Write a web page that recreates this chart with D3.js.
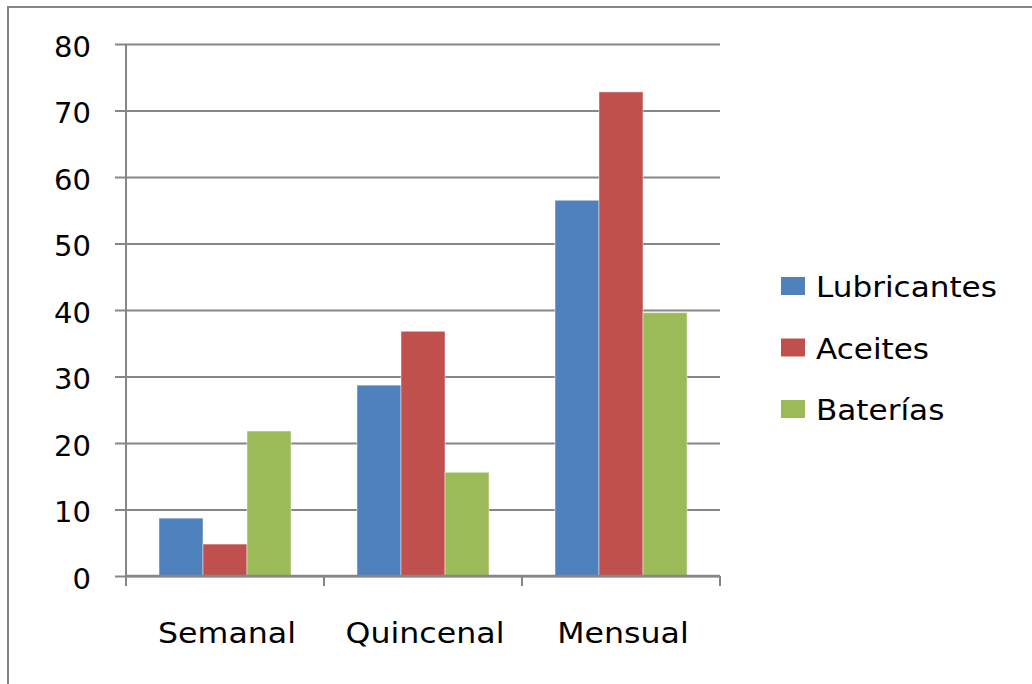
<!DOCTYPE html>
<html>
<head>
<meta charset="utf-8">
<script src="https://cdn.jsdelivr.net/npm/d3@7"></script>
<style>
  html, body { margin: 0; padding: 0; background: #fff; }
  svg { display: block; }
  text { font-family: "DejaVu Sans", sans-serif; fill: #000; }
</style>
</head>
<body>
<svg id="chart" width="1032" height="684"></svg>
<script>
// Frequency categories and the three product series
const categories = ["Semanal", "Quincenal", "Mensual"];
const seriesNames = ["Lubricantes", "Aceites", "Baterías"];
const lubricantes = [8.7, 28.7, 56.5];
const aceites = [4.8, 36.8, 72.8];
const baterias = [21.8, 15.6, 39.6];
const yTicks = [0, 10, 20, 30, 40, 50, 60, 70, 80];
const colors = ["#4F81BD", "#C0504D", "#9BBB59"];

const seriesValues = [lubricantes, aceites, baterias];
const rows = categories.map((c, i) => ({
  category: c,
  values: seriesNames.map((s, j) => ({ series: s, value: seriesValues[j][i], idx: j }))
}));

const svg = d3.select("#chart");
const axisColor = "#868686";

// outer chart frame (runs off the right and bottom edges)
svg.append("rect")
  .attr("x", 8).attr("y", 7)
  .attr("width", 1100).attr("height", 760)
  .attr("fill", "none").attr("stroke", axisColor).attr("stroke-width", 2);

const plotLeft = 126, plotRight = 720, plotTop = 44, plotBottom = 576;

const x = d3.scaleBand().domain(categories).range([plotLeft, plotRight]).paddingInner(0).paddingOuter(0);
const y = d3.scaleLinear().domain([0, 80]).range([plotBottom, plotTop]);

// bar width per Excel-style 150% gap: band = 3w + 1.5w
const barW = x.bandwidth() / 4.5;
const xs = d3.scaleBand().domain(d3.range(seriesNames.length))
  .range([barW * 0.75, barW * 0.75 + barW * 3]).padding(0);

// horizontal gridlines with left tick stubs
const yAxis = d3.axisLeft(y).tickValues(yTicks).tickSize(11).tickFormat(d3.format("d")).tickPadding(24);
const gy = svg.append("g").attr("transform", `translate(${plotLeft},0)`).call(yAxis);
gy.select(".domain").remove();
gy.selectAll(".tick line").attr("stroke", axisColor).attr("stroke-width", 2);
gy.selectAll(".tick")
  .append("line")
  .attr("x1", 0).attr("x2", plotRight - plotLeft)
  .attr("stroke", axisColor).attr("stroke-width", 2);
gy.selectAll(".tick text")
  .attr("font-size", 29)
  .attr("font-family", "DejaVu Sans, sans-serif")
  .attr("fill", "#000")
  .attr("dy", "0.42em");

// vertical axis line
svg.append("line")
  .attr("x1", plotLeft).attr("x2", plotLeft)
  .attr("y1", plotTop).attr("y2", plotBottom)
  .attr("stroke", axisColor).attr("stroke-width", 2);

// bars
const groups = svg.append("g").selectAll("g")
  .data(rows).join("g")
  .attr("transform", d => `translate(${x(d.category)},0)`);

groups.selectAll("rect")
  .data(d => d.values).join("rect")
  .attr("x", d => xs(d.idx))
  .attr("width", xs.bandwidth())
  .attr("y", d => y(d.value))
  .attr("height", d => y(0) - y(d.value))
  .attr("fill", d => colors[d.idx])
  .attr("stroke", "rgba(255,255,255,0.45)")
  .attr("stroke-width", 1);

// category axis with tick marks at band edges
svg.append("line")
  .attr("x1", plotLeft).attr("x2", plotRight)
  .attr("y1", plotBottom).attr("y2", plotBottom)
  .attr("stroke", axisColor).attr("stroke-width", 2.5);

const edges = categories.map(c => x(c)).concat([plotRight]);
svg.append("g").selectAll("line")
  .data(edges).join("line")
  .attr("x1", d => d).attr("x2", d => d)
  .attr("y1", plotBottom).attr("y2", plotBottom + 10)
  .attr("stroke", axisColor).attr("stroke-width", 2);

svg.append("g").selectAll("text")
  .data(categories).join("text")
  .attr("transform", d => `translate(${x(d) + x.bandwidth() / 2 + 2},643) scale(1.13,1)`)
  .attr("text-anchor", "middle")
  .attr("font-size", 28)
  .text(d => d);

// legend
const legend = svg.append("g").selectAll("g")
  .data(seriesNames).join("g")
  .attr("transform", (d, i) => `translate(781,${277 + i * 61.5})`);

legend.append("rect")
  .attr("width", 24).attr("height", 18)
  .attr("fill", (d, i) => colors[i]);

legend.append("text")
  .attr("transform", "translate(35,20) scale(1.11,1)")
  .attr("font-size", 28)
  .text(d => d);
</script>
</body>
</html>
